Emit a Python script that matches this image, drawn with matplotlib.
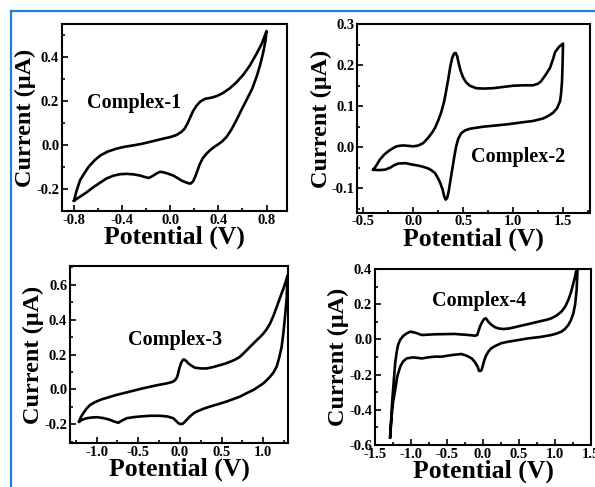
import matplotlib
matplotlib.use("Agg")
import matplotlib.pyplot as plt
from matplotlib.lines import Line2D
from matplotlib.ticker import MultipleLocator

plt.rcParams['font.family'] = ['Liberation Serif', 'DejaVu Serif']
plt.rcParams['font.weight'] = 'bold'

# ---------------- data ----------------
# Complex-1
c1_fwd_v = [-0.80, -0.78, -0.75, -0.71, -0.68, -0.63, -0.58, -0.52, -0.45, -0.38, -0.31, -0.24, -0.17, -0.11, -0.058, 0.0, 0.05, 0.094, 0.12, 0.145, 0.165, 0.19, 0.22, 0.25, 0.29, 0.34, 0.385, 0.44, 0.495, 0.55, 0.606, 0.66, 0.717, 0.76, 0.80]
c1_fwd_i = [-0.253, -0.21, -0.16, -0.125, -0.10, -0.07, -0.047, -0.03, -0.017, -0.008, -0.002, 0.005, 0.014, 0.022, 0.029, 0.036, 0.045, 0.06, 0.075, 0.10, 0.125, 0.155, 0.18, 0.198, 0.21, 0.215, 0.222, 0.237, 0.258, 0.285, 0.319, 0.36, 0.415, 0.46, 0.518]
c1_rev_v = [0.80, 0.79, 0.772, 0.745, 0.717, 0.68, 0.634, 0.59, 0.55, 0.51, 0.468, 0.43, 0.40, 0.357, 0.33, 0.30, 0.27, 0.246, 0.23, 0.21, 0.19, 0.17, 0.158, 0.13, 0.094, 0.06, 0.025, -0.02, -0.058, -0.085, -0.11, -0.15, -0.18, -0.215, -0.25, -0.30, -0.36, -0.42, -0.47, -0.53, -0.58, -0.64, -0.695, -0.75, -0.80]
c1_rev_i = [0.518, 0.47, 0.42, 0.36, 0.31, 0.255, 0.205, 0.158, 0.113, 0.072, 0.037, 0.016, 0.004, -0.012, -0.024, -0.04, -0.06, -0.086, -0.11, -0.14, -0.165, -0.175, -0.175, -0.17, -0.162, -0.15, -0.139, -0.13, -0.124, -0.122, -0.128, -0.142, -0.15, -0.145, -0.139, -0.134, -0.131, -0.133, -0.139, -0.152, -0.17, -0.192, -0.215, -0.235, -0.253]

# Complex-2
c2_fwd_v = [-0.40, -0.37, -0.333, -0.29, -0.25, -0.20, -0.167, -0.12, -0.083, -0.04, 0.0, 0.05, 0.10, 0.15, 0.19, 0.22, 0.25, 0.28, 0.31, 0.33, 0.35, 0.37, 0.39, 0.41, 0.425, 0.44, 0.455, 0.475, 0.50, 0.53, 0.567, 0.63, 0.70, 0.80, 0.90, 1.0, 1.1, 1.2, 1.25, 1.28, 1.33, 1.37, 1.40, 1.42, 1.46, 1.50]
c2_fwd_i = [-0.055, -0.045, -0.030, -0.018, -0.010, -0.002, 0.002, 0.004, 0.004, 0.003, 0.002, 0.004, 0.010, 0.023, 0.036, 0.048, 0.065, 0.085, 0.112, 0.138, 0.165, 0.195, 0.218, 0.229, 0.230, 0.222, 0.205, 0.186, 0.170, 0.158, 0.150, 0.144, 0.143, 0.144, 0.147, 0.150, 0.151, 0.151, 0.155, 0.161, 0.178, 0.194, 0.215, 0.232, 0.245, 0.253]
c2_rev_v = [1.50, 1.495, 1.49, 1.48, 1.47, 1.44, 1.40, 1.35, 1.30, 1.20, 1.07, 0.95, 0.83, 0.70, 0.567, 0.52, 0.48, 0.45, 0.43, 0.41, 0.39, 0.37, 0.355, 0.34, 0.325, 0.31, 0.295, 0.27, 0.24, 0.217, 0.18, 0.15, 0.10, 0.05, 0.0, -0.08, -0.15, -0.19, -0.23, -0.283, -0.35, -0.40]
c2_rev_i = [0.253, 0.20, 0.161, 0.13, 0.112, 0.095, 0.084, 0.076, 0.070, 0.064, 0.060, 0.056, 0.053, 0.050, 0.045, 0.041, 0.034, 0.020, 0.002, -0.025, -0.055, -0.085, -0.108, -0.124, -0.128, -0.120, -0.104, -0.087, -0.072, -0.063, -0.056, -0.052, -0.048, -0.045, -0.043, -0.039, -0.040, -0.044, -0.050, -0.055, -0.056, -0.055]

# Complex-3
c3_fwd_v = [-1.21, -1.19, -1.16, -1.12, -1.08, -1.02, -0.96, -0.86, -0.76, -0.66, -0.56, -0.46, -0.36, -0.26, -0.16, -0.11, -0.08, -0.055, -0.04, -0.025, -0.008, 0.012, 0.032, 0.045, 0.06, 0.08, 0.10, 0.14, 0.18, 0.25, 0.32, 0.40, 0.48, 0.54, 0.60, 0.66, 0.72, 0.77, 0.82, 0.87, 0.92, 0.96, 1.0, 1.04, 1.08, 1.12, 1.16, 1.20, 1.24, 1.27, 1.29]
c3_fwd_i = [-0.185, -0.16, -0.137, -0.11, -0.09, -0.074, -0.061, -0.046, -0.032, -0.02, -0.008, 0.004, 0.015, 0.025, 0.034, 0.04, 0.045, 0.055, 0.065, 0.085, 0.12, 0.15, 0.167, 0.172, 0.168, 0.16, 0.149, 0.135, 0.124, 0.12, 0.12, 0.128, 0.139, 0.147, 0.158, 0.17, 0.187, 0.21, 0.234, 0.258, 0.282, 0.3, 0.32, 0.345, 0.377, 0.42, 0.472, 0.525, 0.577, 0.62, 0.653]
c3_rev_v = [1.29, 1.28, 1.26, 1.24, 1.22, 1.19, 1.16, 1.12, 1.08, 1.04, 1.0, 0.94, 0.88, 0.80, 0.72, 0.64, 0.56, 0.46, 0.36, 0.28, 0.20, 0.17, 0.14, 0.11, 0.08, 0.055, 0.032, 0.005, -0.02, -0.05, -0.08, -0.15, -0.24, -0.36, -0.48, -0.56, -0.64, -0.69, -0.74, -0.79, -0.84, -0.92, -1.0, -1.06, -1.12, -1.17, -1.21]
c3_rev_i = [0.653, 0.52, 0.415, 0.32, 0.244, 0.18, 0.13, 0.095, 0.072, 0.052, 0.034, 0.015, -0.004, -0.022, -0.042, -0.056, -0.07, -0.085, -0.099, -0.112, -0.128, -0.136, -0.147, -0.16, -0.175, -0.188, -0.198, -0.2, -0.194, -0.18, -0.166, -0.156, -0.152, -0.152, -0.156, -0.16, -0.166, -0.178, -0.192, -0.185, -0.175, -0.165, -0.16, -0.162, -0.166, -0.174, -0.185]

# Complex-4
c4_fwd_v = [-1.29, -1.275, -1.26, -1.24, -1.22, -1.20, -1.18, -1.15, -1.11, -1.06, -1.01, -0.94, -0.85, -0.76, -0.67, -0.53, -0.39, -0.30, -0.20, -0.11, -0.08, -0.065, -0.04, -0.01, 0.012, 0.037, 0.055, 0.074, 0.12, 0.167, 0.22, 0.28, 0.36, 0.44, 0.53, 0.63, 0.72, 0.815, 0.89, 0.95, 1.02, 1.09, 1.14, 1.185, 1.22, 1.255, 1.28, 1.30, 1.32]
c4_fwd_i = [-0.556, -0.45, -0.344, -0.24, -0.136, -0.075, -0.032, -0.002, 0.019, 0.034, 0.044, 0.038, 0.025, 0.027, 0.029, 0.030, 0.031, 0.028, 0.025, 0.021, 0.025, 0.044, 0.075, 0.10, 0.114, 0.12, 0.112, 0.10, 0.082, 0.069, 0.062, 0.059, 0.062, 0.069, 0.078, 0.087, 0.096, 0.105, 0.112, 0.12, 0.135, 0.158, 0.185, 0.224, 0.265, 0.319, 0.36, 0.40, 0.47]
c4_rev_v = [1.32, 1.31, 1.30, 1.28, 1.255, 1.22, 1.185, 1.14, 1.09, 1.02, 0.95, 0.80, 0.63, 0.50, 0.35, 0.25, 0.167, 0.11, 0.074, 0.045, 0.019, 0.0, -0.019, -0.04, -0.056, -0.07, -0.088, -0.12, -0.157, -0.22, -0.30, -0.435, -0.574, -0.67, -0.76, -0.85, -0.97, -1.06, -1.11, -1.15, -1.19, -1.22, -1.25, -1.27, -1.29]
c4_rev_i = [0.47, 0.37, 0.28, 0.2, 0.148, 0.108, 0.082, 0.06, 0.044, 0.033, 0.025, 0.014, 0.006, -0.003, -0.013, -0.022, -0.038, -0.052, -0.07, -0.09, -0.117, -0.145, -0.174, -0.18, -0.178, -0.16, -0.145, -0.125, -0.108, -0.094, -0.083, -0.089, -0.098, -0.098, -0.102, -0.108, -0.102, -0.108, -0.125, -0.155, -0.21, -0.288, -0.36, -0.439, -0.556]

labels = ["Complex-1", "Complex-2", "Complex-3", "Complex-4"]

# ---------------- figure ----------------
fig = plt.figure(figsize=(5.95, 4.87), dpi=100)

rects = [
    [62/595, 1-211/487, 225/595, 187/487],
    [357.3/595, 1-212.7/487, 232.7/595, 188.4/487],
    [70/595, 1-443.3/487, 218.3/595, 177.6/487],
    [375/595, 1-445/487, 216/595, 176/487],
]
xlims = [(-0.90, 0.97), (-0.56, 1.77), (-1.32, 1.30), (-1.5, 1.5)]
ylims = [(-0.30, 0.55), (-0.16, 0.30), (-0.31, 0.71), (-0.6, 0.4)]
xmaj = [0.4, 0.5, 0.5, 0.5]
xmin = [0.2, 0.25, 0.25, 0.25]
ymaj = [0.2, 0.1, 0.2, 0.2]
ymin = [0.1, 0.05, 0.1, 0.1]
text_pos = [(-0.69, 0.19), (0.58, -0.025), (-0.62, 0.282), (-0.71, 0.22)]

curves = [
    (c1_fwd_v, c1_fwd_i, c1_rev_v, c1_rev_i),
    (c2_fwd_v, c2_fwd_i, c2_rev_v, c2_rev_i),
    (c3_fwd_v, c3_fwd_i, c3_rev_v, c3_rev_i),
    (c4_fwd_v, c4_fwd_i, c4_rev_v, c4_rev_i),
]

def fmt(v, p):
    return "0.0" if abs(v) < 1e-9 else f"{v:.1f}"

for k in range(4):
    ax = fig.add_axes(rects[k])
    fv, fi, rv, ri = curves[k]
    ax.plot(fv + rv, fi + ri, color='black', lw=1.9, solid_joinstyle='round')
    ax.set_xlim(*xlims[k])
    ax.set_ylim(*ylims[k])
    ax.xaxis.set_major_locator(MultipleLocator(xmaj[k]))
    ax.xaxis.set_minor_locator(MultipleLocator(xmin[k]))
    ax.yaxis.set_major_locator(MultipleLocator(ymaj[k]))
    ax.yaxis.set_minor_locator(MultipleLocator(ymin[k]))
    ax.xaxis.set_major_formatter(plt.FuncFormatter(fmt))
    ax.yaxis.set_major_formatter(plt.FuncFormatter(fmt))
    ax.tick_params(which='both', direction='in', top=False, right=False, width=1.2,
                   labelsize=10.5, pad=2)
    ax.tick_params(which='major', length=4)
    ax.tick_params(which='minor', length=2.5)
    for s in ax.spines.values():
        s.set_linewidth(1.5)
    for t in ax.get_xticklabels() + ax.get_yticklabels():
        t.set_fontweight('bold')
    ax.set_xlabel("Potential (V)", fontsize=18.5, fontweight='bold', labelpad=-1)
    ax.set_ylabel("Current (\u03bcA)", fontsize=17.5, fontweight='bold', labelpad=0)
    ax.text(text_pos[k][0], text_pos[k][1], labels[k], fontsize=14.5, fontweight='bold',
            ha='left', va='center')

blue = '#1f7fd6'
fig.add_artist(Line2D([10.5/595, 10.5/595], [0, 1-10.5/487], color=blue, lw=1.6, transform=fig.transFigure))
fig.add_artist(Line2D([10.5/595, 1], [1-10.5/487, 1-10.5/487], color=blue, lw=1.6, transform=fig.transFigure))

fig.savefig("out.png", dpi=100)
